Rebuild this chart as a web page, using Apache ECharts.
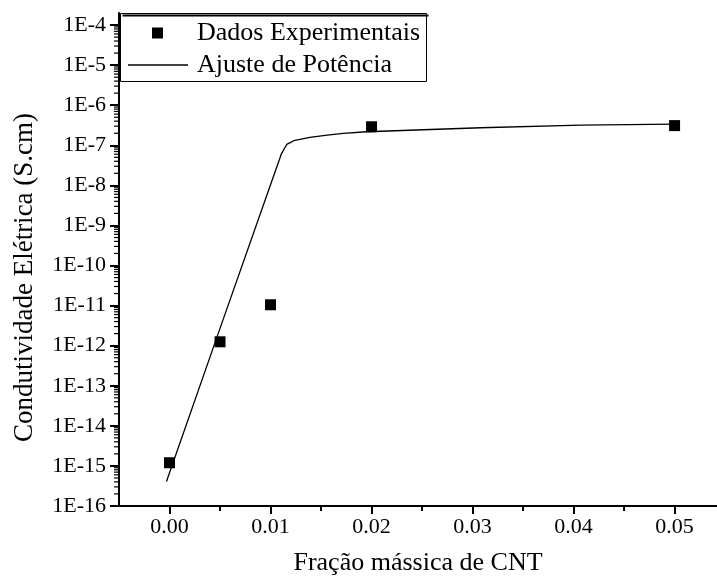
<!DOCTYPE html>
<html>
<head>
<meta charset="utf-8">
<script src="https://cdn.jsdelivr.net/npm/echarts@6/dist/echarts.min.js"></script>
<style>
  html, body { margin: 0; padding: 0; background: #fff; }
  #chart { width: 717px; height: 584px; }
</style>
</head>
<body>
<div id="chart"></div>
<script>
// pontos experimentais
const fracao = [0, 0.005, 0.01, 0.02, 0.05]
const condutividade = [1.2e-15, 1.25e-12, 1.05e-11, 2.9e-7, 3.1e-7]

// curva de ajuste
const ajusteX = [-0.0003, 0.005, 0.0102, 0.0111, 0.0116, 0.0120, 0.0123, 0.0139, 0.0156, 0.0172, 0.0195, 0.0308, 0.0407, 0.05]
const ajusteY = [4.1e-16, 2.7e-12, 1.44e-8, 6.3e-8, 1.05e-7, 1.18e-7, 1.3e-7, 1.58e-7, 1.8e-7, 1.99e-7, 2.18e-7, 2.74e-7, 3.2e-7, 3.39e-7]

// ticks
const xMajor = [0, 0.01, 0.02, 0.03, 0.04, 0.05]
const xMinor = [0.005, 0.015, 0.025, 0.035, 0.045]
const xTickLabels = ['0.00', '0.01', '0.02', '0.03', '0.04', '0.05']
const yMajor = [1e-16, 1e-15, 1e-14, 1e-13, 1e-12, 1e-11, 1e-10, 1e-9, 1e-8, 1e-7, 1e-6, 1e-5, 1e-4]
const yTickLabels = ['1E-16', '1E-15', '1E-14', '1E-13', '1E-12', '1E-11', '1E-10', '1E-9', '1E-8', '1E-7', '1E-6', '1E-5', '1E-4']
const xMin = -0.005
const xMax = 0.0542
const yMin = 1e-16
const yMax = 2e-4

// ticks menores 2..9 de cada decada
const yMinor = []
for (let e = -16; e <= -4; e++) {
  for (let k = 2; k <= 9; k++) {
    const v = k * Math.pow(10, e)
    if (v < yMax) yMinor.push(v)
  }
}

const FONT = '"Liberation Serif", "Times New Roman", serif'
const legendText = { fontFamily: FONT, fontSize: 26, color: '#000' }

const chart = echarts.init(document.getElementById('chart'))

const option = {
  animation: false,
  grid: { left: 119, top: 13, right: 0, bottom: 78 },
  graphic: [
    {
      // moldura da legenda
      type: 'rect',
      left: 120,
      top: 13,
      shape: { width: 306, height: 68 },
      style: { fill: '#fff', stroke: '#000', lineWidth: 1 },
      z: 5
    },
    {
      type: 'line',
      left: 120,
      top: 13,
      shape: { x1: 0, y1: 0, x2: 306, y2: 0 },
      style: { stroke: '#000', lineWidth: 2 },
      z: 6
    }
  ],
  xAxis: {
    type: 'value',
    min: xMin,
    max: xMax,
    name: 'Fração mássica de CNT',
    nameLocation: 'middle',
    nameGap: 44,
    nameTextStyle: { fontFamily: FONT, fontSize: 26, color: '#000' },
    axisLine: { show: true, onZero: false, lineStyle: { color: '#000', width: 2 } },
    axisTick: { customValues: xMajor, length: 8, lineStyle: { color: '#000', width: 2 } },
    axisLabel: {
      customValues: xMajor,
      margin: 10,
      fontFamily: FONT,
      fontSize: 22,
      color: '#000',
      formatter: v => xTickLabels[xMajor.findIndex(m => Math.abs(m - v) < 1e-9)]
    },
    splitLine: { show: false }
  },
  yAxis: {
    type: 'log',
    logBase: 10,
    min: yMin,
    max: yMax,
    name: 'Condutividade Elétrica (S.cm)',
    nameLocation: 'middle',
    nameGap: 81,
    nameTextStyle: { fontFamily: FONT, fontSize: 27, color: '#000', padding: [0, 36, 0, 0] },
    axisLine: { show: true, onZero: false, lineStyle: { color: '#000', width: 2 } },
    axisTick: { customValues: yMajor, length: 9, lineStyle: { color: '#000', width: 2 } },
    axisLabel: {
      customValues: yMajor,
      margin: 13,
      fontFamily: FONT,
      fontSize: 22,
      color: '#000',
      formatter: v => yTickLabels[Math.round(Math.log10(v)) + 16]
    },
    splitLine: { show: false }
  },
  legend: [
    {
      left: 152,
      top: 20,
      padding: 0,
      itemWidth: 11,
      itemHeight: 11,
      icon: 'rect',
      textStyle: Object.assign({ padding: [0, 0, 0, 29] }, legendText),
      data: ['Dados Experimentais'],
      z: 10
    },
    {
      left: 128,
      top: 52,
      padding: 0,
      itemWidth: 60,
      itemHeight: 1.3,
      icon: 'rect',
      textStyle: Object.assign({ padding: [0, 0, 0, 4] }, legendText),
      data: ['Ajuste de Potência'],
      z: 10
    }
  ],
  series: [
    {
      // ticks menores do eixo y (log)
      type: 'custom',
      silent: true,
      clip: false,
      data: yMinor.map((v, i) => [0, i]),
      encode: { x: 0 },
      renderItem: (params, api) => {
        const cs = params.coordSys
        const v = yMinor[params.dataIndex]
        let y = api.coord([0, v])[1]
        if (!isFinite(y)) {
          // reserva: mesma escala log do eixo
          const t = (Math.log10(v) - Math.log10(yMin)) / (Math.log10(yMax) - Math.log10(yMin))
          y = cs.y + cs.height * (1 - t)
        }
        return {
          type: 'line',
          shape: { x1: cs.x - 5, y1: y, x2: cs.x, y2: y },
          style: { stroke: '#000', lineWidth: 1.2 }
        }
      },
      z: 1
    },
    {
      // ticks menores do eixo x
      type: 'custom',
      silent: true,
      clip: false,
      data: xMinor.map(v => [v, yMin]),
      renderItem: (params, api) => {
        const x = api.coord([api.value(0), api.value(1)])[0]
        const y = params.coordSys.y + params.coordSys.height
        return {
          type: 'line',
          shape: { x1: x, y1: y, x2: x, y2: y + 5 },
          style: { stroke: '#000', lineWidth: 2 }
        }
      },
      z: 1
    },
    {
      name: 'Ajuste de Potência',
      type: 'line',
      data: ajusteX.map((x, i) => [x, ajusteY[i]]),
      symbol: 'none',
      smooth: false,
      lineStyle: { color: '#000', width: 1.3 },
      itemStyle: { color: '#000' },
      z: 2
    },
    {
      name: 'Dados Experimentais',
      type: 'scatter',
      data: fracao.map((x, i) => [x, condutividade[i]]),
      symbol: 'rect',
      symbolSize: 11,
      itemStyle: { color: '#000', opacity: 1 },
      z: 3
    }
  ]
}

chart.setOption(option)
</script>
</body>
</html>
